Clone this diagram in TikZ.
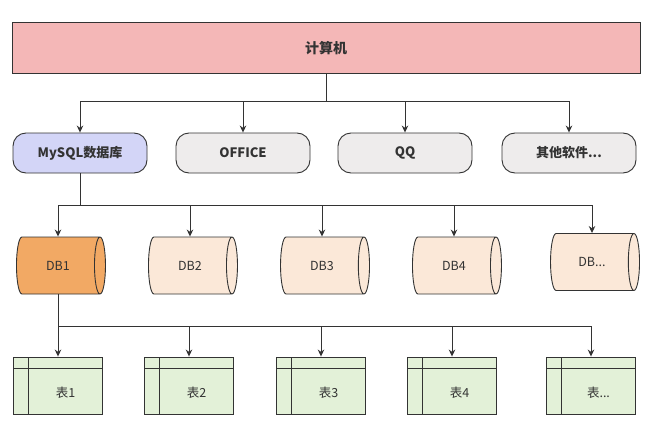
\documentclass[tikz,border=0pt]{standalone}
\usepackage{fontspec}
\setmainfont{Noto Sans CJK SC}
\usetikzlibrary{arrows.meta,shapes.geometric}
\definecolor{linec}{HTML}{333333}
\definecolor{topfill}{HTML}{F4B7B7}
\definecolor{mysqlfill}{HTML}{D3D5F7}
\definecolor{grayfill}{HTML}{EEECEC}
\definecolor{dbdark}{HTML}{F2A964}
\definecolor{dblight}{HTML}{FBE8D8}
\definecolor{tblfill}{HTML}{E3F1D8}
\tikzset{
  topbox/.style={draw=linec,line width=.9pt,fill=topfill,minimum width=628pt,minimum height=51pt,font=\fontsize{14}{16}\selectfont\bfseries},
  pill/.style={draw=linec,line width=.9pt,fill=grayfill,rounded corners=13pt,minimum width=134pt,minimum height=40pt,font=\fontsize{13}{15}\selectfont\bfseries},
  dbcyl/.style={cylinder,draw=linec,line width=.9pt,minimum width=57pt,minimum height=89pt,aspect=1.2,inner sep=0pt,
    cylinder uses custom fill,cylinder body fill=#1,cylinder end fill=#1},
  tablebox/.style={draw=linec,line width=.9pt,fill=tblfill,minimum width=89pt,minimum height=57pt,inner sep=0pt,
    path picture={
      \draw[linec,line width=.9pt] ([yshift=-11pt]path picture bounding box.north west) -- ([yshift=-11pt]path picture bounding box.north east);
      \draw[linec,line width=.9pt] ([xshift=15pt]path picture bounding box.north west) -- ([xshift=15pt]path picture bounding box.south west);
    },
    label={[xshift=7.5pt,yshift=-7pt,text=linec]center:#1}},
  conn/.style={draw=linec,line width=.9pt,-{Stealth[length=7pt,width=6.5pt]}}
}
\begin{document}
\begin{tikzpicture}[x=1pt,y=-1pt,every node/.style={text=linec,font=\fontsize{12.5}{14}\selectfont}]
\useasboundingbox[fill=white] (0,0) rectangle (661,436);
% top level
\node[topbox] (pc) at (326,48) {计算机};
% software
\node[pill,fill=mysqlfill] (mysql) at (80,153) {MySQL数据库};
\node[pill] (office) at (243,153) {OFFICE};
\node[pill] (qq) at (405,153) {QQ};
\node[pill] (other) at (569,153) {其他软件...};
\draw[conn] (pc.south) -- ++(0,27) -| (mysql.north);
\draw[conn] (pc.south) -- ++(0,27) -| (office.north);
\draw[conn] (pc.south) -- ++(0,27) -| (qq.north);
\draw[conn] (pc.south) -- ++(0,27) -| (other.north);
% databases
\node[dbcyl=dbdark] (db1) at (58,265.5) {DB1};
\node[dbcyl=dblight] (db2) at (190,265.5) {DB2};
\node[dbcyl=dblight] (db3) at (322,265.5) {DB3};
\node[dbcyl=dblight] (db4) at (454,265.5) {DB4};
\node[dbcyl=dblight] (db5) at (592,262) {DB...};
\draw[conn] (mysql.south) -- ++(0,32) -| (db1.north);
\draw[conn] (mysql.south) -- ++(0,32) -| (db2.north);
\draw[conn] (mysql.south) -- ++(0,32) -| (db3.north);
\draw[conn] (mysql.south) -- ++(0,32) -| (db4.north);
\draw[conn] (mysql.south) -- ++(0,32) -| (db5.north);
% tables
\node[tablebox=表1] (t1) at (58,385.5) {};
\node[tablebox=表2] (t2) at (189,385.5) {};
\node[tablebox=表3] (t3) at (321,385.5) {};
\node[tablebox=表4] (t4) at (452,385.5) {};
\node[tablebox=表...] (t5) at (591,385.5) {};
\draw[conn] (db1.south) -- ++(0,32) -| (t1.north);
\draw[conn] (db1.south) -- ++(0,32) -| (t2.north);
\draw[conn] (db1.south) -- ++(0,32) -| (t3.north);
\draw[conn] (db1.south) -- ++(0,32) -| (t4.north);
\draw[conn] (db1.south) -- ++(0,32) -| (t5.north);
\end{tikzpicture}
\end{document}
